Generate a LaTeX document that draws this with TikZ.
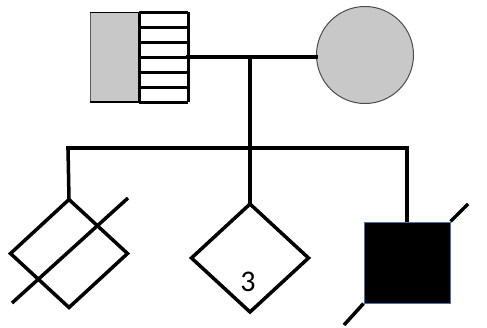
\documentclass[tikz,border=0pt]{standalone}
\usepackage{fontspec}
\setmainfont{Carlito}
\usetikzlibrary{shapes.geometric,calc}
\definecolor{pedgray}{HTML}{C8C8C8}
\definecolor{edgeblue}{HTML}{4A6FA5}
\tikzset{
  rel/.style={line width=3.5pt, line cap=rect},
  sym/.style={draw, line width=3.5pt, inner sep=0pt, outer sep=0pt},
  unknown/.style={sym, diamond, minimum width=117pt, minimum height=108pt},
  slash/.style={line width=3.5pt}
}
\begin{document}
\begin{tikzpicture}[x=1pt,y=-1pt]
  \useasboundingbox (0,0) rectangle (487,327);

  % father: grey half and striped half
  \node (fa) [rectangle, inner sep=0pt, outer sep=0pt, minimum width=98pt, minimum height=90pt] at (139,57) {};
  \fill[pedgray] (fa.north west) rectangle (fa.south);
  \draw[gray!70!black, line width=1pt] (fa.north west) -- (fa.south west);
  \draw[line width=1pt] (fa.north west) -- (fa.north);
  \draw[line width=2.5pt] (fa.south west) -- (fa.south);
  \foreach \k in {0,...,6}
    \draw[line width=3pt] ($(fa.north)+(0,15*\k)$) -- ++(49,0);
  \draw[line width=3pt] (fa.north) -- (fa.south);
  \draw[line width=3pt] (fa.north east) -- (fa.south east);

  % mother
  \node (mo) [circle, fill=pedgray, draw=gray!60!black, line width=1pt, minimum size=97pt, inner sep=0pt] at (365,55) {};

  % marriage, descent and sibship lines
  \coordinate (mid) at (250,57);
  \coordinate (sib) at (250,148);
  \coordinate (sl) at (68,148);
  \coordinate (sr) at (407,148);
  \draw[rel] (fa.east) -- (fa.east -| mo.west);
  \draw[rel] (mid) -- (sib);
  \draw[rel] (sl) -- (sr);

  % children
  \node (c1) [unknown] at (69,253.5) {};
  \node (c2) [unknown] at (250,258) {};
  \node (c3) [rectangle, fill=black, draw=edgeblue, line width=1pt, inner sep=0pt, minimum width=86pt, minimum height=81pt] at (407,262.5) {};
  \node at (248,282) {\fontsize{30pt}{30pt}\selectfont 3};

  \draw[rel, line cap=butt] (sl) -- (c1.north);
  \draw[rel, line cap=butt] (sib) -- (c2.north);
  \draw[rel, line cap=butt] (sr) -- (c3.north);

  % deceased marks
  \coordinate (d1a) at (12,303);
  \coordinate (d1b) at (128,198);
  \coordinate (d3a) at (344,325);
  \coordinate (d3b) at (468,204);
  \draw[slash] (d1a) -- (d1b);
  \draw[slash] (d3a) -- (c3.south west);
  \draw[slash] (c3.north east) -- (d3b);
\end{tikzpicture}
\end{document}
